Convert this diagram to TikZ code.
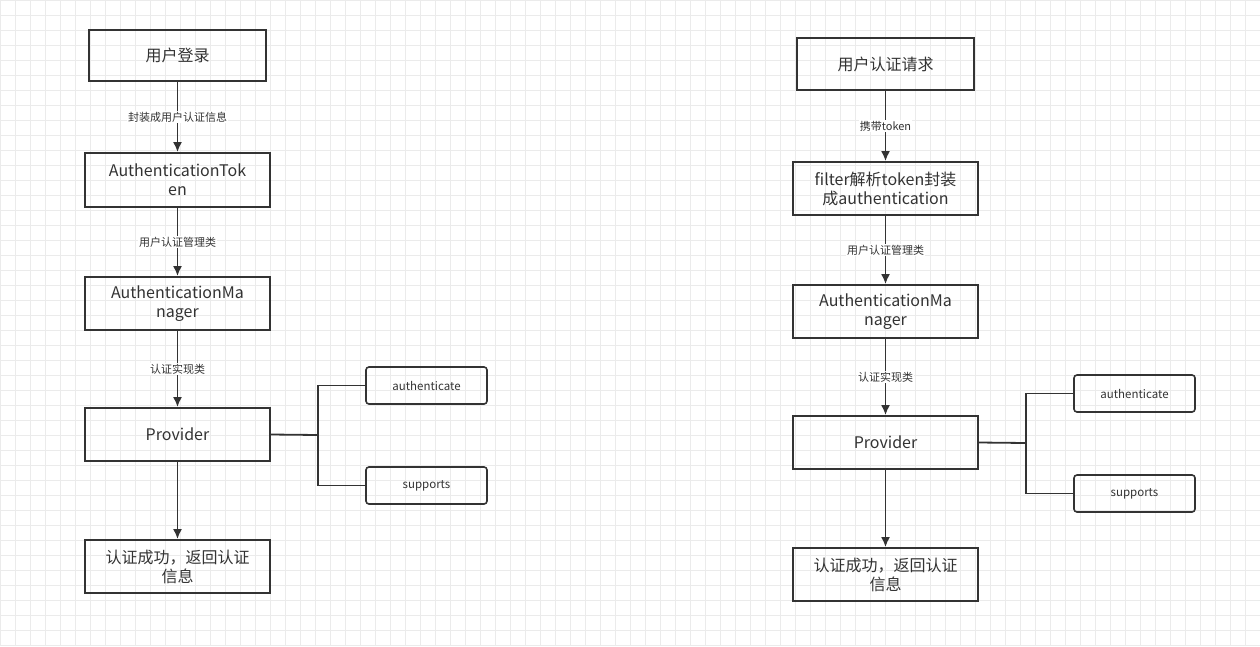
\documentclass[tikz,border=0pt]{standalone}
\usepackage{fontspec}
\setmainfont{Noto Sans CJK SC}
\usetikzlibrary{arrows.meta}
\begin{document}
\begin{tikzpicture}[x=1pt,y=-1pt,
  box/.style={draw=black!80,line width=1.8pt,text=black!80,font=\fontsize{16}{19}\selectfont,align=center,inner sep=0pt},
  rbox/.style={draw=black!80,line width=1.6pt,rounded corners=3pt,text=black!80,font=\fontsize{11.5}{13}\selectfont,inner sep=0pt},
  arr/.style={draw=black!80,line width=1.8pt,-{Latex[length=10pt,width=9pt]}},
  ln/.style={draw=black!80,line width=1.8pt},
  lab/.style={fill=white,text=black!80,font=\fontsize{11}{13}\selectfont,inner sep=1pt}]
\useasboundingbox (0,0) rectangle (1260,646);
\fill[white] (0,0) rectangle (1260,646);
\foreach \i in {0,15,...,1260} \draw[black!8,line width=0.6pt] (\i,0) -- (\i,646);
\foreach \j in {0,15,...,646} \draw[black!8,line width=0.6pt] (0,\j) -- (1260,\j);
% left
\node[box,minimum width=177,minimum height=51] (a1) at (177.5,55.5) {用户登录};
\node[box,minimum width=185,minimum height=54] (a2) at (177.5,180) {AuthenticationTok\\en};
\node[box,minimum width=185,minimum height=53] (a3) at (177.5,303.5) {AuthenticationMa\\nager};
\node[box,minimum width=185,minimum height=53] (a4) at (177.5,434.5) {Provider};
\node[box,minimum width=185,minimum height=53] (a5) at (177.5,566.5) {认证成功，返回认证\\信息};
\node[rbox,minimum width=121,minimum height=37] (a6) at (426.5,385.5) {authenticate};
\node[rbox,minimum width=121,minimum height=37] (a7) at (426.5,485.5) {supports};
\coordinate (aj) at (318,435);
\draw[arr] (a1) -- node[lab]{封装成用户认证信息} (a2);
\draw[arr] (a2) -- node[lab]{用户认证管理类} (a3);
\draw[arr] (a3) -- node[lab,pos=0.5]{认证实现类} (a4);
\draw[arr] (a4) -- (a5);
\draw[ln] (a4.east) -- (aj);
\draw[ln] (a6.west) -| (aj) |- (a7.west);
% right
\node[box,minimum width=177,minimum height=52] (b1) at (885.5,64) {用户认证请求};
\node[box,minimum width=185,minimum height=53] (b2) at (885.5,188.5) {filter解析token封装\\成authentication};
\node[box,minimum width=185,minimum height=53] (b3) at (885.5,311.5) {AuthenticationMa\\nager};
\node[box,minimum width=185,minimum height=53] (b4) at (885.5,442.5) {Provider};
\node[box,minimum width=185,minimum height=53] (b5) at (885.5,574.5) {认证成功，返回认证\\信息};
\node[rbox,minimum width=121,minimum height=37] (b6) at (1134.5,393.5) {authenticate};
\node[rbox,minimum width=121,minimum height=37] (b7) at (1134.5,493.5) {supports};
\coordinate (bj) at (1026,443);
\draw[arr] (b1) -- node[lab]{携带token} (b2);
\draw[arr] (b2) -- node[lab]{用户认证管理类} (b3);
\draw[arr] (b3) -- node[lab,pos=0.5]{认证实现类} (b4);
\draw[arr] (b4) -- (b5);
\draw[ln] (b4.east) -- (bj);
\draw[ln] (b6.west) -| (bj) |- (b7.west);
\end{tikzpicture}
\end{document}
